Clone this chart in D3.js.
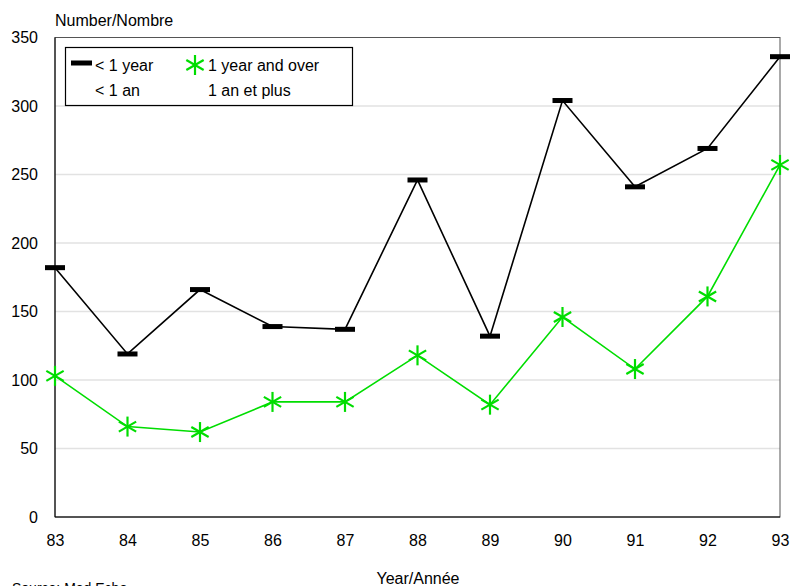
<!DOCTYPE html>
<html><head><meta charset="utf-8">
<script src="https://cdn.jsdelivr.net/npm/d3@7"></script>
<style>body{margin:0;background:#fff}svg{display:block}text{font-family:"Liberation Sans",Arial,sans-serif;fill:#000}</style>
</head><body><svg id="c" width="791" height="586"></svg>
<script>
const years = ["83","84","85","86","87","88","89","90","91","92","93"];
const under1 = [182,119,166,139,137,246,132,304,241,269,336];
const over1 = [103,66,62,84,84,118,82,146,108,161,257];
const yTicks = [0,50,100,150,200,250,300,350];

const FS = 16;
const svg = d3.select("#c");
const L=55,R=780,T=37.5,B=517;
const x = d3.scalePoint().domain(years).range([L,R]);
const y = d3.scaleLinear().domain([0,350]).range([B,T]);

// gridlines
svg.append("g").selectAll("line").data(yTicks.filter(d=>d>0&&d<350)).join("line")
  .attr("x1",L).attr("x2",R).attr("y1",d=>y(d)).attr("y2",d=>y(d))
  .attr("stroke","#e2e2e2").attr("stroke-width",1.6);
// frame
svg.append("rect").attr("x",L).attr("y",T).attr("width",R-L).attr("height",B-T)
  .attr("fill","none").attr("stroke","#555").attr("stroke-width",1);
svg.append("line").attr("x1",L).attr("x2",L).attr("y1",T).attr("y2",B).attr("stroke","#000");
svg.append("line").attr("x1",L).attr("x2",R).attr("y1",B).attr("y2",B).attr("stroke","#000").attr("stroke-width",1.2);

// axes
const ya = svg.append("g").attr("transform",`translate(${L},0)`)
  .call(d3.axisLeft(y).tickValues(yTicks).tickSize(0).tickPadding(17));
ya.select(".domain").remove();
ya.selectAll("text").attr("font-size",FS).attr("font-family","Liberation Sans, Arial, sans-serif").attr("fill","#000");
const xa = svg.append("g").attr("transform",`translate(0,${B})`)
  .call(d3.axisBottom(x).tickSize(0).tickPadding(18));
xa.select(".domain").remove();
xa.selectAll("text").attr("font-size",FS).attr("font-family","Liberation Sans, Arial, sans-serif").attr("fill","#000");

svg.append("text").attr("x",55).attr("y",26).attr("font-size",FS).text("Number/Nombre");
svg.append("text").attr("x",418).attr("y",584).attr("font-size",FS).attr("text-anchor","middle").text("Year/Année");
svg.append("text").attr("x",12).attr("y",593).attr("font-size",14).text("Source: Med Echo");

const line = d3.line().x((d,i)=>x(years[i])).y(d=>y(d));
svg.append("path").datum(over1).attr("d",line).attr("fill","none").attr("stroke","#00dd00").attr("stroke-width",1.6);
svg.append("path").datum(under1).attr("d",line).attr("fill","none").attr("stroke","#000").attr("stroke-width",1.6);

function star(g,cx,cy){
  const r=10;
  const s = g.append("g").attr("transform",`translate(${cx},${cy})`).attr("stroke","#00dd00").attr("stroke-width",2.2);
  s.append("line").attr("x1",0).attr("x2",0).attr("y1",-r).attr("y2",r);
  [30,-30].forEach(a=>{const rad=a*Math.PI/180;
    s.append("line").attr("x1",-r*Math.cos(rad)).attr("y1",-r*Math.sin(rad)).attr("x2",r*Math.cos(rad)).attr("y2",r*Math.sin(rad));});
}
const gm = svg.append("g");
over1.forEach((v,i)=>star(gm,x(years[i]),y(v)));
svg.append("g").selectAll("rect").data(under1).join("rect")
  .attr("x",(d,i)=>x(years[i])-10).attr("y",d=>y(d)-2.5).attr("width",20).attr("height",5).attr("fill","#000");

// legend
const lg = svg.append("g");
lg.append("rect").attr("x",65.5).attr("y",47.5).attr("width",287).attr("height",58).attr("fill","#fff").attr("stroke","#000").attr("stroke-width",1.2);
lg.append("rect").attr("x",71).attr("y",60.5).attr("width",21).attr("height",5).attr("fill","#000");
lg.append("text").attr("x",95).attr("y",71).attr("font-size",FS).text("< 1 year");
lg.append("text").attr("x",95).attr("y",96).attr("font-size",FS).text("< 1 an");
star(lg,195,65);
lg.append("text").attr("x",208).attr("y",71).attr("font-size",FS).text("1 year and over");
lg.append("text").attr("x",208).attr("y",96).attr("font-size",FS).text("1 an et plus");
</script></body></html>
